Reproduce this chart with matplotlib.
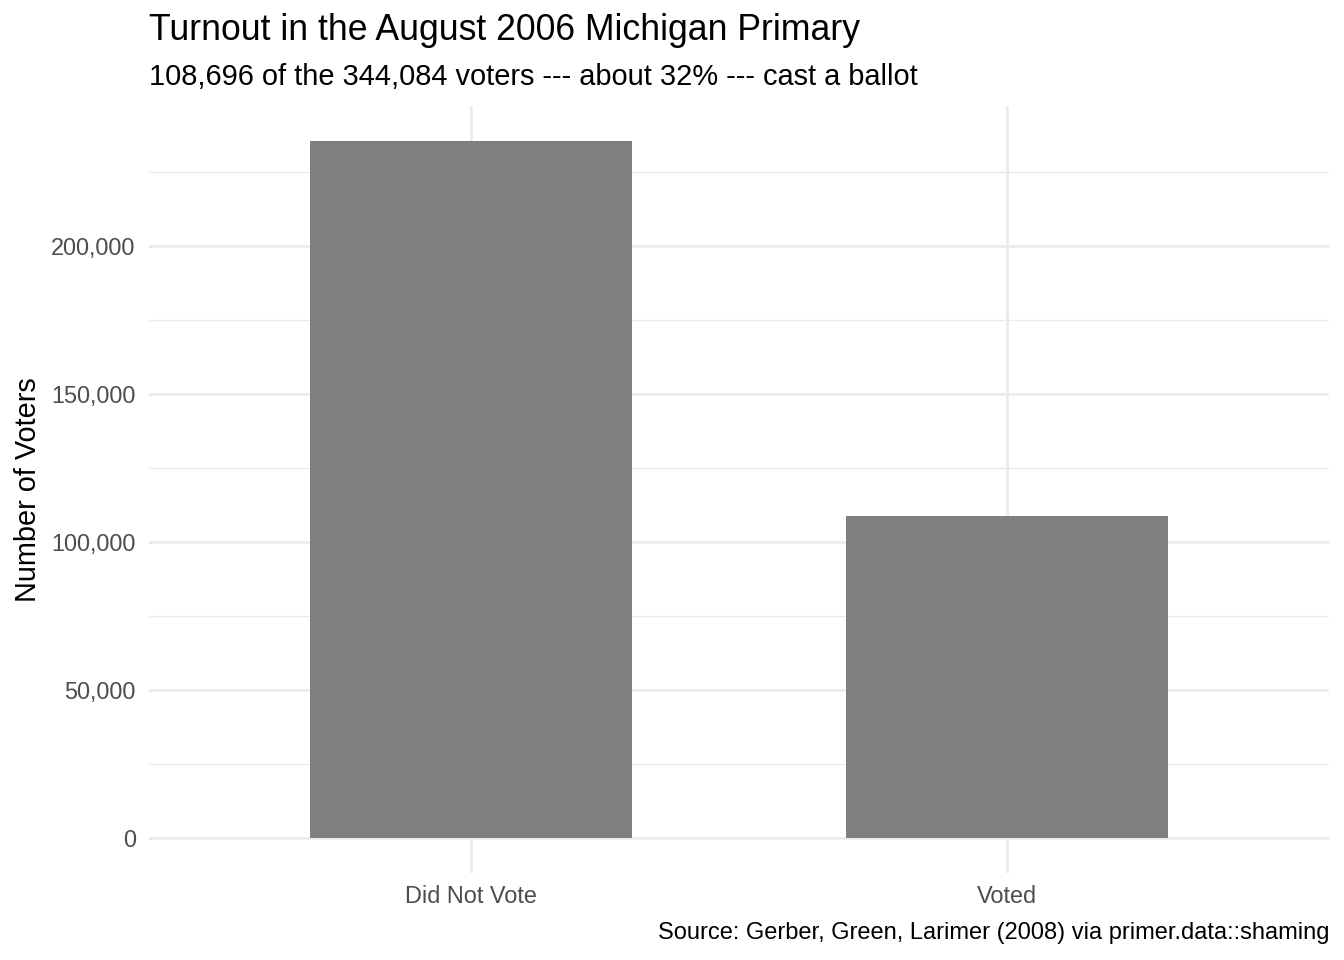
import matplotlib
matplotlib.use("Agg")
import matplotlib.pyplot as plt
from matplotlib.ticker import FuncFormatter, MultipleLocator

categories = ["Did Not Vote", "Voted"]
counts = [235388, 108696]
y_ticks = [0, 50000, 100000, 150000, 200000]

plt.rcParams['font.family'] = ['Liberation Sans', 'DejaVu Sans']

W, H = 1344, 960
fig = plt.figure(figsize=(W / 100, H / 100), dpi=100)
left, right, top, bottom = 149, 1329, 106.4, 872.8
ax = fig.add_axes([left / W, 1 - bottom / H, (right - left) / W, (bottom - top) / H])

x = list(range(1, len(categories) + 1))
ax.bar(x, counts, width=0.6, color="#7F7F7F", zorder=2)

ymax = max(counts)
ax.set_ylim(-0.05 * ymax, 1.05 * ymax)
ax.set_xlim(0.4, len(categories) + 0.6)
ax.set_xticks(x)
ax.set_xticklabels(categories)
ax.set_yticks(y_ticks)
ax.yaxis.set_minor_locator(MultipleLocator(25000))
ax.yaxis.set_major_formatter(FuncFormatter(lambda v, p: f"{int(v):,}"))

ax.grid(which="major", axis="both", color="#EBEBEB", linewidth=2.0, zorder=0)
ax.grid(which="minor", axis="y", color="#EBEBEB", linewidth=1.0, zorder=0)
ax.set_axisbelow(True)
for s in ax.spines.values():
    s.set_visible(False)
ax.tick_params(which="both", length=0, labelsize=16.9, labelcolor="#4D4D4D")
ax.tick_params(axis="y", pad=9.6)
ax.tick_params(axis="x", pad=8.8)

ax.set_ylabel("Number of Voters", fontsize=20.8, color="black", labelpad=6.5)

fig.text(left / W, 1 - 40 / H, "Turnout in the August 2006 Michigan Primary",
         fontsize=25.7, ha="left", va="baseline")
fig.text(left / W, 1 - 85 / H, "108,696 of the 344,084 voters --- about 32% --- cast a ballot",
         fontsize=20.88, ha="left", va="baseline")
fig.text(right / W, 1 - 939 / H, "Source: Gerber, Green, Larimer (2008) via primer.data::shaming",
         fontsize=17.0, ha="right", va="baseline")

fig.savefig("out.png", dpi=100, facecolor="white")
